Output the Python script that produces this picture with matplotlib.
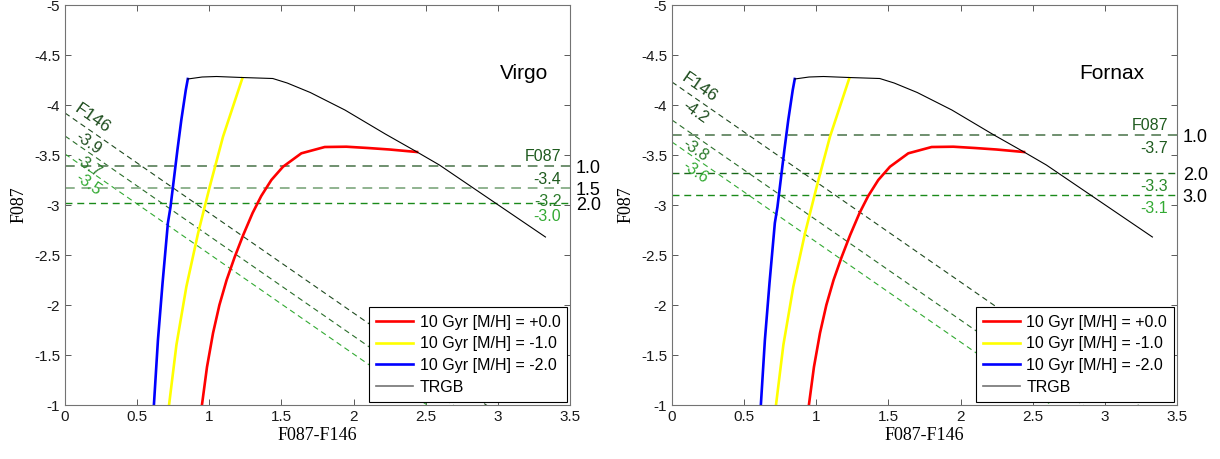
import numpy as np
import matplotlib.pyplot as plt

plt.rcParams['font.family'] = ['Liberation Sans', 'DejaVu Sans']

# isochrones (F087-F146, F087)
red_x = [0.949, 0.984, 1.026, 1.07, 1.12, 1.176, 1.235, 1.30, 1.36, 1.43, 1.511, 1.638, 1.80, 1.95, 2.10, 2.25, 2.44]
red_y = [-1.0, -1.38, -1.72, -2.0, -2.25, -2.48, -2.70, -2.92, -3.09, -3.25, -3.383, -3.517, -3.58, -3.583, -3.57, -3.555, -3.53]
yel_x = [0.721, 0.772, 0.841, 0.922, 1.003, 1.095, 1.229]
yel_y = [-1.0, -1.6, -2.183, -2.717, -3.183, -3.683, -4.267]
blu_x = [0.616, 0.644, 0.676, 0.713, 0.731, 0.779, 0.806, 0.837, 0.851]
blu_y = [-1.0, -1.65, -2.22, -2.82, -2.98, -3.55, -3.85, -4.15, -4.26]
trgb_x = [0.851, 0.95, 1.05, 1.227, 1.44, 1.54, 1.70, 1.94, 2.22, 2.44, 2.595, 3.33]
trgb_y = [-4.26, -4.28, -4.285, -4.275, -4.265, -4.22, -4.125, -3.95, -3.71, -3.53, -3.40, -2.68]

iso_labels = ['10 Gyr [M/H] = +0.0', '10 Gyr [M/H] = -1.0', '10 Gyr [M/H] = -2.0', 'TRGB']

# per galaxy limits
names = ['Virgo', 'Fornax']
f087_lims = [[-3.39, -3.17, -3.02], [-3.70, -3.32, -3.10]]
f087_txt = [['-3.4', '-3.2', '-3.0'], ['-3.7', '-3.3', '-3.1']]
f146_lims = [[-3.92, -3.69, -3.51], [-4.23, -3.85, -3.63]]
f146_txt = [['-3.9', '-3.7', '-3.5'], ['-4.2', '-3.8', '-3.6']]
side_txt = [['1.0', '1.5', '2.0'], ['1.0', '2.0', '3.0']]

hcols = [['#6f8f6f', '#8fb38f', '#1a8a1a'], ['#6f8f6f', '#1a6a1a', '#1a8a1a']]
hlw = [[1.4, 1.4, 1.0], [1.4, 1.0, 1.0]]
htxtcol = [['#1e5a1e', '#2a7a2a', '#33aa33'], ['#1e5a1e', '#2a8a2a', '#33aa33']]
dcols = ['#1f4a1f', '#2a6e2a', '#33aa33']
dtxtcol = ['#1e4d1e', '#2a7a2a', '#33aa33']

fig = plt.figure(figsize=(12.2, 4.59), dpi=100)
axes = [fig.add_axes([0.0533, 0.1176, 0.4139, 0.8715]),
        fig.add_axes([0.5508, 0.1176, 0.4139, 0.8715])]

ang = -34.7
for i, ax in enumerate(axes):
    xx = np.array([0, 3.5])
    for v, c in zip(f146_lims[i], dcols):
        ax.plot(xx, v + xx, '--', color=c, lw=0.8, dashes=(5, 3.5))
    for v, c, w in zip(f087_lims[i], hcols[i], hlw[i]):
        ax.plot(xx, [v, v], '--', color=c, lw=w, dashes=(5, 3.5))

    ax.plot(red_x, red_y, color='#ff0000', lw=1.9, label=iso_labels[0])
    ax.plot(yel_x, yel_y, color='#ffff00', lw=1.9, label=iso_labels[1])
    ax.plot(blu_x, blu_y, color='#0000ff', lw=1.9, label=iso_labels[2])
    ax.plot(trgb_x, trgb_y, color='k', lw=0.8, label=iso_labels[3])

    # F146 labels along diagonals
    ax.text(0.19, f146_lims[i][0] + 0.19 - 0.13, 'F146', color=dtxtcol[0], fontsize=12.5,
            rotation=ang, rotation_mode='anchor', ha='center', va='center')
    for v, t, c in zip(f146_lims[i], f146_txt[i], dtxtcol):
        ax.text(0.16, v + 0.16 + 0.14, t, color=c, fontsize=11.5,
                rotation=ang, rotation_mode='anchor', ha='center', va='center')

    # F087 labels along horizontals
    ax.text(3.44, f087_lims[i][0] - 0.1, 'F087', color=htxtcol[i][0], fontsize=11.5,
            ha='right', va='center')
    for v, t, c, s in zip(f087_lims[i], f087_txt[i], htxtcol[i], side_txt[i]):
        ax.text(3.44, v + 0.13, t, color=c, fontsize=11.5, ha='right', va='center')
        ax.text(3.54, v + 0.02, s, color='k', fontsize=13, ha='left', va='center',
                clip_on=False)

    ax.text(3.18 if i == 0 else 3.05, -4.32, names[i], fontsize=15, ha='center', va='center')

    ax.set_xlim(0, 3.5)
    ax.set_ylim(-1, -5)
    ax.set_xticks(np.arange(0, 3.51, 0.5))
    ax.set_xticklabels(['0', '0.5', '1', '1.5', '2', '2.5', '3', '3.5'])
    ax.set_yticks(np.arange(-5, -0.99, 0.5))
    ax.set_yticklabels(['-5', '-4.5', '-4', '-3.5', '-3', '-2.5', '-2', '-1.5', '-1'])
    ax.tick_params(direction='in', top=True, right=True, length=4, width=0.7,
                   color='0.35', labelcolor='0.1', labelsize=11)
    for sp in ax.spines.values():
        sp.set_color('0.45')
        sp.set_linewidth(0.8)
    ax.set_xlabel('F087-F146', family='Liberation Serif', fontsize=13, labelpad=2)
    ax.set_ylabel('F087', family='Liberation Serif', fontsize=13, labelpad=5)

    leg = ax.legend(loc='lower right', bbox_to_anchor=(0.995, 0.008), fontsize=11.5,
                    fancybox=False, edgecolor='k', framealpha=1, borderaxespad=0,
                    handlelength=2.3, labelspacing=0.42, borderpad=0.45, handletextpad=0.4)
    leg.get_frame().set_linewidth(0.8)
    leg.get_lines()[3].set_color('0.45')
    leg.get_lines()[3].set_linewidth(1.2)

fig.savefig('out.png', dpi=100)
